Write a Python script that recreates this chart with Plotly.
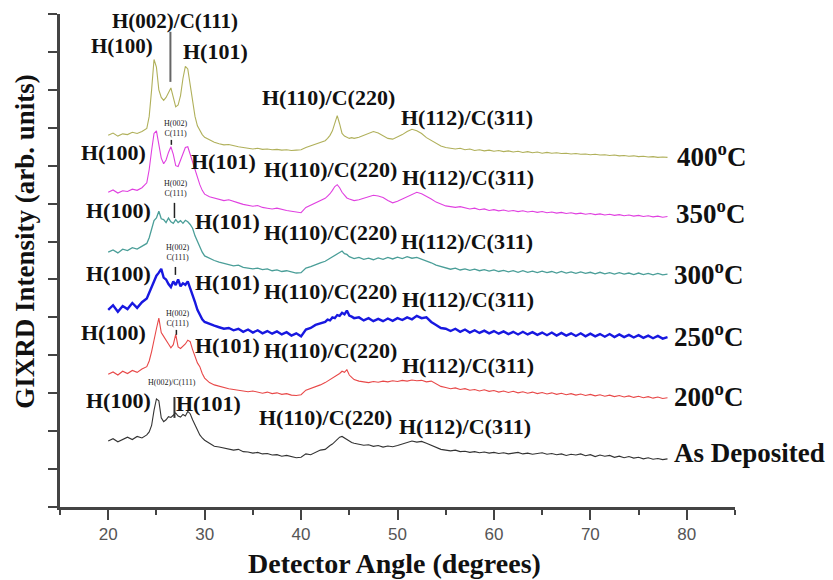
import plotly.graph_objects as go

# Detector angle sampling (degrees): finer steps across the main peak regions
angle = ([20 + 0.5 * i for i in range(8)]
         + [24 + 0.25 * i for i in range(24)]
         + [30 + 0.5 * i for i in range(25)]
         + [42.5 + 0.25 * i for i in range(12)]
         + [45.5 + 0.5 * i for i in range(66)])

# GIXRD intensity (arb. units, stacked)
as_deposited = [
    1.74, 1.80, 1.72, 1.79, 1.84, 1.78, 1.86, 1.82,
    1.90, 1.98, 2.15, 2.55, 2.85, 2.80, 2.35, 2.25, 2.30, 2.38,
    2.36, 2.42, 2.48, 2.40, 2.37, 2.44, 2.40, 2.52, 2.46, 2.30,
    2.15, 2.02, 1.90, 1.82,
    1.76, 1.68, 1.60, 1.58, 1.55, 1.52, 1.50, 1.52, 1.46, 1.45,
    1.42, 1.44, 1.40, 1.41, 1.37, 1.38, 1.34, 1.36, 1.32, 1.30,
    1.31, 1.40, 1.38, 1.45, 1.50,
    1.52, 1.58, 1.62, 1.66, 1.72, 1.76, 1.84, 1.86, 1.82, 1.78, 1.72, 1.70,
    1.68, 1.66, 1.63, 1.64, 1.60, 1.62, 1.58, 1.61, 1.59, 1.62,
    1.66, 1.70, 1.74, 1.71, 1.73, 1.68, 1.62, 1.56, 1.52, 1.50,
    1.48, 1.50, 1.46, 1.47, 1.44, 1.46, 1.43, 1.45, 1.42, 1.44,
    1.41, 1.43, 1.40, 1.42, 1.44, 1.40, 1.42, 1.39, 1.41, 1.43,
    1.39, 1.41, 1.38, 1.40, 1.36, 1.39, 1.37, 1.40, 1.35, 1.38,
    1.33, 1.37, 1.34, 1.36, 1.31, 1.34, 1.30, 1.33, 1.29, 1.31,
    1.27, 1.30, 1.26, 1.28, 1.25, 1.27,
]

t200 = [
    3.50, 3.56, 3.48, 3.58, 3.52, 3.60, 3.55, 3.64,
    3.70, 3.85, 4.10, 4.45, 4.70, 4.98, 4.60, 4.50, 4.38, 4.30,
    4.20, 4.28, 4.55, 4.22, 4.18, 4.25, 4.30, 4.40, 4.36, 4.15,
    3.95, 3.80, 3.70, 3.52,
    3.40, 3.28, 3.22, 3.18, 3.14, 3.12, 3.10, 3.08, 3.06, 3.04,
    3.06, 3.02, 3.00, 3.03, 2.99, 3.01, 2.97, 2.99, 2.95, 2.94,
    2.96, 3.08, 3.12, 3.18, 3.22,
    3.28, 3.32, 3.36, 3.40, 3.42, 3.48, 3.52, 3.58, 3.55, 3.62, 3.48, 3.42,
    3.36, 3.32, 3.30, 3.28, 3.31, 3.29, 3.32, 3.30, 3.33, 3.31,
    3.34, 3.32, 3.35, 3.33, 3.34, 3.30, 3.32, 3.24, 3.18, 3.15,
    3.12, 3.14, 3.10, 3.12, 3.08, 3.10, 3.06, 3.09, 3.05, 3.07,
    3.03, 3.06, 3.02, 3.05, 3.01, 3.04, 3.00, 3.03, 2.99, 3.02,
    2.98, 3.01, 2.97, 3.00, 2.96, 2.99, 2.95, 2.98, 2.94, 2.97,
    2.93, 2.96, 2.92, 2.95, 2.91, 2.94, 2.90, 2.93, 2.89, 2.92,
    2.88, 2.91, 2.87, 2.90, 2.86, 2.88,
]

t250 = [
    5.20, 5.32, 5.15, 5.30, 5.22, 5.38, 5.25, 5.40,
    5.50, 5.65, 5.85, 6.00, 6.10, 6.18, 6.28, 6.05, 6.00, 5.88,
    5.80, 5.95, 5.85, 6.00, 5.82, 5.90, 5.86, 5.95, 5.78, 5.60,
    5.40, 5.20, 5.05, 4.95,
    4.88, 4.82, 4.78, 4.74, 4.70, 4.72, 4.66, 4.70, 4.62, 4.68,
    4.60, 4.66, 4.58, 4.64, 4.57, 4.63, 4.55, 4.61, 4.52, 4.58,
    4.50, 4.68, 4.72, 4.80, 4.84,
    4.88, 4.94, 4.92, 5.00, 4.98, 5.06, 5.04, 5.12, 5.08, 5.18, 5.05, 5.02,
    4.98, 5.00, 4.92, 4.98, 4.90, 4.96, 4.90, 4.97, 4.91, 4.98,
    4.93, 5.00, 4.95, 5.04, 4.98, 5.00, 4.88, 4.80, 4.72, 4.70,
    4.64, 4.70, 4.62, 4.68, 4.60, 4.66, 4.59, 4.65, 4.58, 4.64,
    4.57, 4.63, 4.56, 4.62, 4.55, 4.62, 4.55, 4.61, 4.54, 4.60,
    4.53, 4.60, 4.52, 4.59, 4.52, 4.58, 4.51, 4.58, 4.50, 4.57,
    4.50, 4.56, 4.49, 4.56, 4.48, 4.55, 4.48, 4.54, 4.47, 4.53,
    4.46, 4.52, 4.45, 4.51, 4.44, 4.48,
]

t300 = [
    6.72, 6.78, 6.70, 6.80, 6.76, 6.84, 6.80, 6.88,
    6.95, 7.10, 7.35, 7.55, 7.62, 7.80, 7.60, 7.58, 7.50, 7.62,
    7.52, 7.48, 7.58, 7.50, 7.55, 7.48, 7.56, 7.52, 7.45, 7.35,
    7.15, 7.00, 6.85, 6.72,
    6.62, 6.55, 6.50, 6.46, 6.42, 6.40, 6.36, 6.38, 6.32, 6.30,
    6.28, 6.30, 6.26, 6.28, 6.23, 6.25, 6.21, 6.23, 6.19, 6.17,
    6.18, 6.30, 6.34, 6.40, 6.44,
    6.48, 6.52, 6.56, 6.60, 6.64, 6.68, 6.70, 6.75, 6.68, 6.66, 6.60, 6.58,
    6.55, 6.58, 6.53, 6.56, 6.52, 6.57, 6.53, 6.58, 6.54, 6.59,
    6.55, 6.60, 6.56, 6.58, 6.54, 6.50, 6.44, 6.38, 6.34, 6.30,
    6.27, 6.30, 6.25, 6.28, 6.24, 6.27, 6.23, 6.26, 6.22, 6.25,
    6.21, 6.24, 6.20, 6.23, 6.19, 6.23, 6.19, 6.22, 6.18, 6.22,
    6.18, 6.21, 6.17, 6.21, 6.17, 6.20, 6.16, 6.20, 6.16, 6.19,
    6.15, 6.19, 6.15, 6.18, 6.14, 6.18, 6.14, 6.17, 6.13, 6.17,
    6.13, 6.16, 6.12, 6.16, 6.12, 6.14,
]

t350 = [
    8.30, 8.36, 8.28, 8.34, 8.32, 8.38, 8.35, 8.42,
    8.55, 8.90, 9.40, 9.85, 9.92, 9.60, 9.20, 9.05, 9.15, 9.35,
    9.50, 9.30, 9.00, 8.98, 9.15, 9.35, 9.48, 9.50, 9.30, 9.05,
    8.85, 8.68, 8.50, 8.35,
    8.25, 8.18, 8.14, 8.10, 8.08, 8.10, 8.05, 8.02, 7.98, 7.95,
    7.93, 7.95, 7.90, 7.88, 7.86, 7.88, 7.84, 7.82, 7.80, 7.78,
    7.76, 7.90, 7.96, 8.02, 8.08,
    8.14, 8.20, 8.26, 8.35, 8.45, 8.50, 8.42, 8.30, 8.22, 8.15, 8.12, 8.10,
    8.08, 8.10, 8.14, 8.18, 8.22, 8.20, 8.16, 8.08, 8.02, 8.06,
    8.12, 8.18, 8.25, 8.30, 8.26, 8.20, 8.12, 8.04, 7.98, 7.94,
    7.92, 7.90, 7.92, 7.88, 7.86, 7.88, 7.84, 7.86, 7.82, 7.84,
    7.81, 7.83, 7.80, 7.82, 7.79, 7.81, 7.78, 7.80, 7.77, 7.79,
    7.76, 7.78, 7.75, 7.77, 7.74, 7.76, 7.73, 7.75, 7.72, 7.74,
    7.71, 7.73, 7.70, 7.72, 7.69, 7.71, 7.68, 7.70, 7.67, 7.69,
    7.66, 7.68, 7.65, 7.67, 7.64, 7.66,
]

t400 = [
    9.80, 9.86, 9.78, 9.84, 9.82, 9.88, 9.85, 9.90,
    9.98, 10.30, 11.00, 11.80, 11.60, 11.00, 10.80, 10.72, 10.80, 10.95,
    11.05, 10.80, 10.55, 10.60, 10.85, 11.30, 11.62, 11.55, 11.10, 10.65,
    10.30, 10.05, 9.92, 9.82,
    9.75, 9.68, 9.62, 9.58, 9.55, 9.56, 9.52, 9.50, 9.48, 9.46,
    9.44, 9.46, 9.43, 9.44, 9.42, 9.43, 9.41, 9.42, 9.40, 9.41,
    9.42, 9.48, 9.52, 9.56, 9.60,
    9.66, 9.72, 9.80, 9.92, 10.15, 10.32, 10.10, 9.85, 9.78, 9.74, 9.72, 9.74,
    9.72, 9.75, 9.80, 9.86, 9.90, 9.86, 9.78, 9.72, 9.70, 9.75,
    9.82, 9.90, 9.96, 9.92, 9.85, 9.74, 9.66, 9.58, 9.52, 9.48,
    9.46, 9.44, 9.46, 9.42, 9.44, 9.40, 9.42, 9.39, 9.41, 9.38,
    9.40, 9.37, 9.39, 9.36, 9.38, 9.35, 9.37, 9.34, 9.36, 9.33,
    9.35, 9.33, 9.34, 9.32, 9.33, 9.31, 9.32, 9.30, 9.31, 9.29,
    9.30, 9.28, 9.29, 9.27, 9.28, 9.26, 9.27, 9.25, 9.26, 9.24,
    9.25, 9.23, 9.24, 9.22, 9.23, 9.22,
]

series_names = ["As Deposited", "200<sup>o</sup>C", "250<sup>o</sup>C",
                "300<sup>o</sup>C", "350<sup>o</sup>C", "400<sup>o</sup>C"]
series_data = [as_deposited, t200, t250, t300, t350, t400]
series_colors = ["#333333", "#e84848", "#1818e0", "#4a9e98", "#e040e0", "#b0b05a"]
series_widths = [1.1, 1.1, 2.4, 1.3, 1.1, 1.1]

for s in series_data:
    assert len(s) == len(angle), (len(s), len(angle))

SERIF = "Liberation Serif, Times New Roman, serif"

fig = go.Figure()
for name, ys, col, w in zip(series_names, series_data, series_colors, series_widths):
    fig.add_trace(go.Scatter(x=angle, y=ys, mode="lines", name=name,
                             line=dict(color=col, width=w), showlegend=False))

annotations = []
shapes = []


def label(x, y, text, size=22, anchor="center"):
    annotations.append(dict(x=x, y=y, xref="x", yref="y", text=text, showarrow=False,
                            xanchor=anchor, yanchor="middle",
                            font=dict(family=SERIF, size=size, color="#111111", weight="bold")))


def small(x, y, text):
    annotations.append(dict(x=x, y=y, xref="x", yref="y", text=text, showarrow=False,
                            xanchor="center", yanchor="middle",
                            font=dict(family=SERIF, size=8, color="#222222")))


def marker_line(x, y0, y1, color="#222222", width=1.5):
    shapes.append(dict(type="line", xref="x", yref="y", x0=x, x1=x, y0=y0, y1=y1,
                       line=dict(color=color, width=width)))


TEMP = 27

# 400 C
label(26.97, 12.81, "H(002)/C(111)", size=21)
label(21.48, 12.15, "H(100)", size=21)
label(31.11, 12.00, "H(101)")
marker_line(26.45, 12.53, 11.21, color="#666666", width=2)
label(42.82, 10.79, "H(110)/C(220)")
label(57.23, 10.28, "H(112)/C(311)")
label(78.8, 9.28, "400<sup>o</sup>C", size=TEMP, anchor="left")

# 350 C
small(26.97, 9.99, "H(002)<br>C(111)")
marker_line(26.55, 9.68, 9.55)
label(20.54, 9.34, "H(100)")
label(31.94, 9.10, "H(101)")
label(43.03, 8.89, "H(110)/C(220)")
label(57.33, 8.68, "H(112)/C(311)")
label(78.7, 7.78, "350<sup>o</sup>C", size=TEMP, anchor="left")

# 300 C
small(26.97, 8.41, "H(002)<br>C(111)")
marker_line(26.87, 8.02, 7.62)
label(21.06, 7.83, "H(100)")
label(32.36, 7.52, "H(101)")
label(43.03, 7.23, "H(110)/C(220)")
label(57.23, 6.99, "H(112)/C(311)")
label(78.5, 6.17, "300<sup>o</sup>C", size=TEMP, anchor="left")

# 250 C
small(27.18, 6.70, "H(002)<br>C(111)")
marker_line(26.97, 6.33, 6.12)
label(21.06, 6.17, "H(100)")
label(32.36, 5.91, "H(101)")
label(43.03, 5.67, "H(110)/C(220)")
label(57.33, 5.46, "H(112)/C(311)")
label(78.5, 4.54, "250<sup>o</sup>C", size=TEMP, anchor="left")

# 200 C
small(27.18, 4.98, "H(002)<br>C(111)")
marker_line(27.07, 4.67, 4.54)
label(20.54, 4.61, "H(100)")
label(32.36, 4.27, "H(101)")
label(43.03, 4.14, "H(110)/C(220)")
label(57.33, 3.74, "H(112)/C(311)")
label(78.5, 2.95, "200<sup>o</sup>C", size=TEMP, anchor="left")

# As deposited
small(26.66, 3.27, "H(002)/C(111)")
marker_line(26.87, 2.90, 2.35, color="#333333", width=2)
label(21.06, 2.82, "H(100)")
label(30.39, 2.74, "H(101)")
label(42.51, 2.35, "H(110)/C(220)")
label(57.02, 2.11, "H(112)/C(311)")
label(78.5, 1.42, "As Deposited", size=27, anchor="left")

# Axis titles
annotations.append(dict(x=0.495, y=-0.1136, xref="paper", yref="paper",
                        text="Detector Angle (degrees)", showarrow=False,
                        xanchor="center", yanchor="middle",
                        font=dict(family=SERIF, size=28, color="#111111", weight="bold")))
annotations.append(dict(x=-0.052, y=0.54, xref="paper", yref="paper",
                        text="GIXRD Intensity (arb. units)", showarrow=False, textangle=-90,
                        xanchor="center", yanchor="middle",
                        font=dict(family=SERIF, size=27, color="#111111", weight="bold")))

fig.update_layout(
    width=833, height=580,
    margin=dict(l=60, r=98, t=14, b=73),
    paper_bgcolor="white", plot_bgcolor="white",
    annotations=annotations, shapes=shapes,
    xaxis=dict(range=[15, 85], tick0=0, dtick=10, ticks="outside", ticklen=10, tickwidth=2,
               tickcolor="#444444", showline=True, linecolor="#444444", linewidth=2.5,
               showgrid=False, zeroline=False,
               tickfont=dict(family="Liberation Sans, Arial, sans-serif", size=17, color="#555555"),
               minor=dict(dtick=5, tick0=0, ticks="outside", ticklen=5, tickwidth=2,
                          tickcolor="#444444")),
    yaxis=dict(range=[0, 13], tick0=0, dtick=1, ticks="outside", ticklen=9, tickwidth=2,
               tickcolor="#444444", showline=True, linecolor="#444444", linewidth=2.5,
               showgrid=False, zeroline=False, showticklabels=False),
)

fig.write_html("out.html")
